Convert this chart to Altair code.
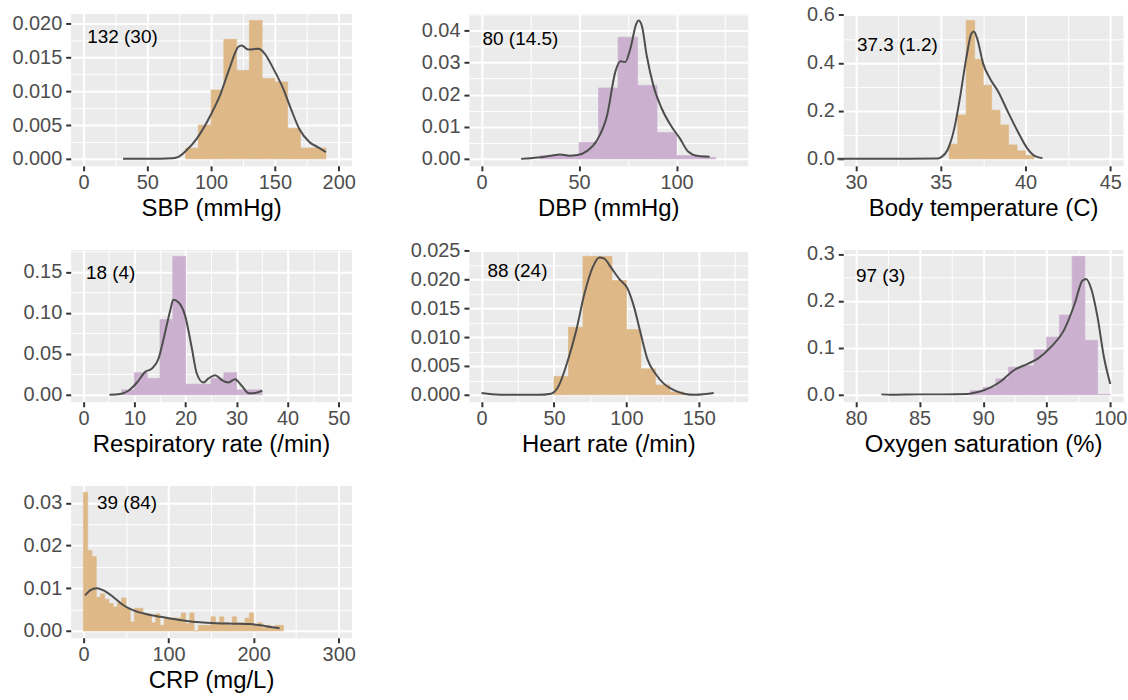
import json
import altair as alt
import pandas as pd

FONT = "Liberation Sans"
TAN = "#DEB887"
PURPLE = "#CBB1CF"
LINE = "#4D4D4D"

# ---------------- data ----------------
sbp_edges = [80, 90, 100, 110, 120, 130, 140, 150, 160, 170, 180, 190]
sbp_dens = [0.0016, 0.0050, 0.0102, 0.0177, 0.0131, 0.0205, 0.0119, 0.0114, 0.0045, 0.0016, 0.0016]
sbp_kx = [31, 50, 70, 74.5, 81, 88.8, 99.7, 107, 114.8, 121.4, 124, 129, 137, 142, 148.7, 156.5, 163, 169.5, 177, 184, 190]
sbp_ky = [0, 0, 0.0001, 0.0003, 0.0013, 0.0030, 0.0065, 0.0094, 0.0136, 0.0166, 0.0168, 0.0162, 0.0163, 0.0156,
          0.0134, 0.0104, 0.0072, 0.0043, 0.0025, 0.0017, 0.0010]

dbp_edges = [30, 40, 50, 60, 70, 80, 90, 100, 110, 120]
dbp_dens = [0.0010, 0.0010, 0.0051, 0.0221, 0.0379, 0.0229, 0.0082, 0.0010, 0.0005]
dbp_kx = [20.3, 28.8, 35.6, 40.3, 44.9, 49.2, 54.2, 59.3, 64.4, 68.6, 71.2, 73.7, 76.3, 79.3, 80.5, 82.2, 84.7,
          88.1, 92.4, 97.5, 101.7, 105.9, 111, 117]
dbp_ky = [0.0, 0.0004, 0.0010, 0.0014, 0.0010, 0.0012, 0.0025, 0.0059, 0.0136, 0.0271, 0.0304, 0.0302, 0.0343,
          0.0420, 0.0431, 0.0415, 0.0322, 0.0229, 0.0157, 0.0100, 0.0064, 0.0023, 0.0009, 0.0007]

temp_edges = [35.5, 36, 36.5, 37, 37.5, 38, 38.5, 39, 39.5, 40, 40.5]
temp_dens = [0.061, 0.183, 0.577, 0.415, 0.307, 0.203, 0.141, 0.058, 0.033, 0.014]
temp_kx = [28.9, 33, 34.8, 35.0, 35.4, 35.8, 36.16, 36.5, 36.8, 36.95, 37.15, 37.5, 37.9, 38.4, 38.96, 39.55,
           40.1, 40.6, 41.0]
temp_ky = [0, 0, 0.001, 0.006, 0.037, 0.127, 0.266, 0.418, 0.521, 0.531, 0.501, 0.397, 0.335, 0.279, 0.196,
           0.113, 0.044, 0.010, 0.003]

rr_edges = [7.5, 10, 12.5, 15, 17.5, 20, 22.5, 25, 27.5, 30, 32.5, 35]
rr_dens = [0.006, 0.027, 0.020, 0.092, 0.169, 0.013, 0.013, 0.020, 0.027, 0.006, 0.006]
rr_kx = [5.1, 7.2, 8.8, 10.5, 12.1, 13.4, 14.7, 15.8, 17.0, 17.6, 18.6, 19.9, 21.2, 22.2, 23.5, 24.5, 25.8,
         27.1, 28.4, 29.7, 31.0, 32.4, 33.3, 35.0]
rr_ky = [0, 0.001, 0.005, 0.015, 0.028, 0.032, 0.044, 0.071, 0.103, 0.116, 0.113, 0.097, 0.058, 0.026, 0.015,
         0.020, 0.024, 0.018, 0.015, 0.019, 0.011, 0.002, 0.002, 0.005]

hr_edges = [50, 60, 70, 80, 90, 100, 110, 120, 130, 140]
hr_dens = [0.0032, 0.0117, 0.0240, 0.0240, 0.0198, 0.0113, 0.0045, 0.0017, 0.0005]
hr_kx = [0, 6.9, 20.6, 38.9, 48, 52.7, 59.5, 65.3, 71, 76.7, 81.3, 84.7, 89.3, 95, 100.8, 105.3, 109.9, 114.5,
         120.2, 126, 132.8, 139.7, 147.7, 160.3]
hr_ky = [0.0003, 0.0001, 0, 0, 0.0002, 0.0013, 0.0059, 0.0111, 0.0175, 0.0221, 0.0238, 0.0236, 0.0221, 0.0201,
         0.0184, 0.0152, 0.0106, 0.0062, 0.0036, 0.0019, 0.0008, 0.0002, 0, 0.0003]

o2_edges = [89, 90, 91, 92, 93, 94, 95, 96, 97, 98, 99, 100]
o2_dens = [0.009, 0.016, 0.034, 0.059, 0.062, 0.096, 0.123, 0.170, 0.295, 0.116, 0.001]
o2_kx = [82.0, 82.75, 84.85, 86.9, 88.8, 89.6, 90.6, 91.4, 92.45, 93.5, 94.3, 95.3, 96.4, 97.2, 97.8, 98.1,
         98.5, 99.0, 99.5, 100.0]
o2_ky = [0.001, 0.0, 0.001, 0.001, 0.002, 0.006, 0.016, 0.029, 0.053, 0.066, 0.077, 0.101, 0.140, 0.194,
         0.243, 0.247, 0.226, 0.165, 0.080, 0.023]

crp_dens = [0.0325, 0.0188, 0.0174, 0.0079, 0.0087, 0.0074, 0.0064, 0.0056, 0.0066, 0.0077, 0.0053, 0.0021,
            0.0053, 0.0053, 0.0040, 0.0040, 0.0019, 0.0040, 0.0013, 0.0030, 0.0030, 0.0030, 0.0030, 0.0042,
            0.0017, 0.0042, 0.0, 0.0013, 0.0013, 0.0013, 0.0033, 0.0019, 0.0033, 0.0019, 0.0013, 0.0033,
            0.0019, 0.0019, 0.0030, 0.0042, 0.0013, 0.0019, 0.0007, 0.0013, 0.0007, 0.0013, 0.0013]
crp_edges = [5 * i for i in range(len(crp_dens) + 1)]
crp_kx = [2, 7.8, 15.7, 23.5, 35.3, 47, 58.8, 74.5, 90.2, 106, 121.6, 137, 157, 176.5, 196, 208, 220, 230.6]
crp_ky = [0.0083, 0.0095, 0.0100, 0.0095, 0.0079, 0.0060, 0.0048, 0.0039, 0.0033, 0.0028, 0.0023, 0.0020,
          0.0018, 0.0017, 0.0016, 0.0013, 0.0009, 0.0006]

titles = ["SBP (mmHg)", "DBP (mmHg)", "Body temperature (C)", "Respiratory rate (/min)",
          "Heart rate (/min)", "Oxygen saturation (%)", "CRP (mg/L)"]
labels = ["132 (30)", "80 (14.5)", "37.3 (1.2)", "18 (4)", "88 (24)", "97 (3)", "39 (84)"]


def make_axis(major, minor, fmt, ext=None, spacer=None):
    vals = sorted(major + minor + ([spacer] if spacer is not None else []))
    mt = f"indexof({json.dumps(major)}, datum.value) >= 0"
    if spacer is not None:
        st = f"datum.value === {spacer}"
        lab = f"{mt} ? datum.label : ({st} ? ' ' : '')"
        gcol = {"condition": {"test": st, "value": "rgba(255,255,255,0)"}, "value": "#FFFFFF"}
    else:
        lab = f"{mt} ? datum.label : ''"
        gcol = "#FFFFFF"
    kw = dict(values=vals, format=fmt, labelExpr=lab, labelOverlap=False, labelFlush=False,
              tickColor={"condition": {"test": mt, "value": "#333333"}, "value": "rgba(0,0,0,0)"},
              gridWidth={"condition": {"test": mt, "value": 2}, "value": 1},
              gridColor=gcol)
    if ext is not None:
        kw.update(minExtent=ext, maxExtent=ext)
    return alt.Axis(**kw)


def panel(edges, dens, kx, ky, color, xdom, ydom, xmaj, xmin_, xfmt, ymaj, ymin_, yfmt,
          title, label, lx, ly, width, ext, spacer=None):
    bars_df = pd.DataFrame({"x": edges[:-1], "x2": edges[1:], "y": dens})
    line_df = pd.DataFrame({"x": kx, "y": ky})
    text_df = pd.DataFrame({"x": [lx], "y": [ly], "t": [label]})
    xenc = alt.X("x:Q", scale=alt.Scale(domain=xdom, nice=False, zero=False),
                 axis=make_axis(xmaj, xmin_, xfmt), title=title)
    yenc = alt.Y("y:Q", scale=alt.Scale(domain=ydom, nice=False, zero=False),
                 axis=make_axis(ymaj, ymin_, yfmt, ext=ext, spacer=spacer), title=None)
    bars = alt.Chart(bars_df).mark_rect(color=color, stroke=color, strokeWidth=0.7).encode(
        x=xenc, x2="x2:Q", y=yenc, y2=alt.datum(0))
    line = alt.Chart(line_df).mark_line(color=LINE, strokeWidth=2, interpolate="monotone").encode(x=xenc, y=yenc)
    text = alt.Chart(text_df).mark_text(align="left", baseline="middle", font=FONT, fontSize=19,
                                        color="#000000").encode(x=xenc, y=yenc, text="t:N")
    return alt.layer(bars, line, text).properties(width=width, height=153)


E1, E2, E3 = 65, 102, 84

p1 = panel(sbp_edges, sbp_dens, sbp_kx, sbp_ky, TAN, [-10, 210], [-0.00103, 0.02153],
           [0, 50, 100, 150, 200], [25, 75, 125, 175], "d",
           [0, 0.005, 0.01, 0.015, 0.02], [0.0025, 0.0075, 0.0125, 0.0175], ".3f",
           titles[0], labels[0], 3, 0.0181, 282, E1)
p2 = panel(dbp_edges, dbp_dens, dbp_kx, dbp_ky, PURPLE, [-6.5, 136.5], [-0.00216, 0.0453],
           [0, 50, 100], [25, 75, 125], "d",
           [0, 0.01, 0.02, 0.03, 0.04], [0.005, 0.015, 0.025, 0.035, 0.045], ".2f",
           titles[1], labels[1], 0.5, 0.0372, 280, E2)
p3 = panel(temp_edges, temp_dens, temp_kx, temp_ky, TAN, [29.25, 45.75], [-0.029, 0.606],
           [30, 35, 40, 45], [32.5, 37.5, 42.5], "d",
           [0, 0.2, 0.4, 0.6], [0.1, 0.3, 0.5], ".1f",
           titles[2], labels[2], 30.06, 0.475, 281, E3)
p4 = panel(rr_edges, rr_dens, rr_kx, rr_ky, PURPLE, [-2.5, 52.5], [-0.0085, 0.1775],
           [0, 10, 20, 30, 40, 50], [5, 15, 25, 35, 45], "d",
           [0, 0.05, 0.1, 0.15], [0.025, 0.075, 0.125, 0.175], ".2f",
           titles[3], labels[3], 0.5, 0.149, 282, E1)
p5 = panel(hr_edges, hr_dens, hr_kx, hr_ky, TAN, [-8.75, 183.75], [-0.0012, 0.0252],
           [0, 50, 100, 150], [25, 75, 125, 175], "d",
           [0, 0.005, 0.01, 0.015, 0.02, 0.025], [0.0025, 0.0075, 0.0125, 0.0175, 0.0225], ".3f",
           titles[4], labels[4], 4.1, 0.0215, 280, E2)
p6 = panel(o2_edges, o2_dens, o2_kx, o2_ky, PURPLE, [79, 101], [-0.01475, 0.30975],
           [80, 85, 90, 95, 100], [82.5, 87.5, 92.5, 97.5], "d",
           [0, 0.1, 0.2, 0.3], [0.05, 0.15, 0.25], ".1f",
           titles[5], labels[5], 80, 0.253, 281, E3)
p7 = panel(crp_edges, crp_dens, crp_kx, crp_ky, TAN, [-15, 315], [-0.0016, 0.0341],
           [0, 100, 200, 300], [50, 150, 250], "d",
           [0, 0.01, 0.02, 0.03], [0.005, 0.015, 0.025], ".2f",
           titles[6], labels[6], 16, 0.030, 282, E1, spacer=0.0339)

chart = alt.concat(p1, p2, p3, p4, p5, p6, p7, columns=3, align="each",
                   spacing={"row": 18, "column": 10}).properties(
    padding={"left": 5, "top": 2, "right": 0, "bottom": 2}
).configure_axis(
    domain=False, labelFont=FONT, labelFontSize=20, labelColor="#4D4D4D",
    titleFont=FONT, titleFontSize=24, titleColor="#000000", titleFontWeight="normal",
    tickSize=5, tickWidth=2, labelPadding=4
).configure_axisX(labelPadding=2, titlePadding=4).configure_axisY(titlePadding=0).configure_view(
    fill="#EBEBEB", stroke="transparent"
)

chart.save("out.html", embed_options={"renderer": "svg", "actions": False})
